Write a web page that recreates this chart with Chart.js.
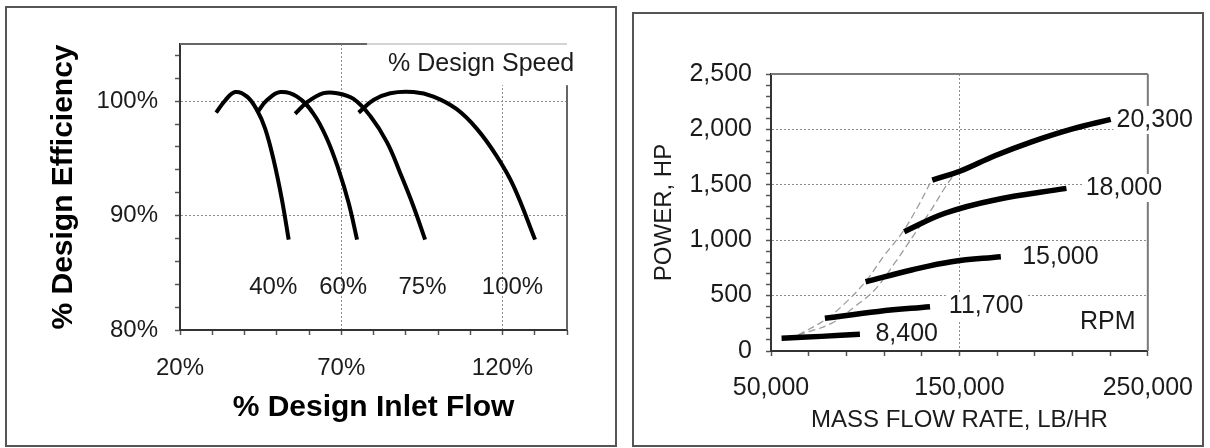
<!DOCTYPE html>
<html>
<head>
<meta charset="utf-8">
<script src="https://cdn.jsdelivr.net/npm/chart.js@4.4.1/dist/chart.umd.min.js"></script>
<style>
  html, body { margin: 0; padding: 0; background: #fff; }
  #stage { position: relative; width: 1210px; height: 448px; overflow: hidden; background: #fff; }
  .wrap { position: absolute; top: 0; height: 448px; }
  .panel { position: absolute; border: 2px solid #555; box-sizing: border-box; pointer-events: none; }
</style>
</head>
<body>
<div id="stage">
  <div class="wrap" style="left:0;width:620px"><canvas id="effChart"></canvas></div>
  <div class="wrap" style="left:620px;width:590px"><canvas id="powerChart"></canvas></div>
  <div class="panel" style="left:5px;top:6px;width:612px;height:441px"></div>
  <div class="panel" style="left:632px;top:12px;width:572px;height:435px"></div>
</div>
<script>
// ---------- Efficiency vs inlet flow (left panel) ----------
const flowTickValues = [20, 30, 40, 50, 60, 70, 80, 90, 100, 110, 120, 130, 140];
const flowLabelValues = [20, 70, 120];
const flowGridValues = [70, 120];
const effTickValues = [80, 82, 84, 86, 88, 90, 92, 94, 96, 98, 100, 102, 104];
const effLabelValues = [80, 90, 100];
const effGridValues = [90, 100];

const speed40Flow = [31.2, 34.1, 37.1, 40.8, 43.9, 46.4, 49.0, 51.6, 53.7];
const speed40Eff  = [99.0, 100.1, 100.8, 100.4, 99.2, 97.6, 94.9, 91.4, 87.9];
const speed60Flow = [43.9, 47.0, 51.1, 56.3, 61.4, 65.6, 69.2, 72.3, 74.9];
const speed60Eff  = [99.0, 100.1, 100.8, 100.4, 98.9, 96.7, 94.0, 91.1, 87.9];
const speed75Flow = [55.7, 59.4, 64.5, 68.7, 73.8, 79.0, 84.2, 88.3, 92.4, 96.0];
const speed75Eff  = [98.9, 99.9, 100.7, 100.7, 100.2, 98.7, 96.4, 93.7, 90.8, 87.9];
const speed100Flow = [75.4, 80.0, 85.2, 92.4, 98.6, 105.8, 112.0, 118.2, 123.4, 130.1];
const speed100Eff  = [99.0, 100.1, 100.7, 100.8, 100.4, 99.3, 97.6, 95.2, 92.6, 87.9];

const speedNames = ['40%', '60%', '75%', '100%'];
const speedLabelFlow = [48.9, 70.6, 95.2, 123.1];
const speedLabelEff = 83.7;
const speedTitle = '% Design Speed';

// ---------- Power vs mass flow (right panel) ----------
const massTickValues = [50000, 70000, 90000, 110000, 130000, 150000, 170000, 190000, 210000, 230000, 250000];
const massLabelValues = [50000, 150000, 250000];
const massGridValues = [150000];
const powerTickValues = [0, 100, 200, 300, 400, 500, 600, 700, 800, 900, 1000, 1100, 1200, 1300,
  1400, 1500, 1600, 1700, 1800, 1900, 2000, 2100, 2200, 2300, 2400, 2500];
const powerLabelValues = [0, 500, 1000, 1500, 2000, 2500];
const powerGridValues = [500, 1000, 1500, 2000];

const rpm8400Flow = [55600, 76800, 97200];
const rpm8400Power = [115, 132, 151];
const rpm11700Flow = [78600, 106900, 134400];
const rpm11700Power = [295, 357, 400];
const rpm15000Flow = [100200, 124600, 145800, 172000];
const rpm15000Power = [625, 731, 806, 851];
const rpm18000Flow = [120700, 142300, 168800, 206800];
const rpm18000Power = [1077, 1243, 1363, 1468];
const rpm20300Flow = [135600, 150200, 168800, 188300, 210000, 230300];
const rpm20300Power = [1543, 1622, 1762, 1888, 2005, 2090];

const limitAFlow = [64400, 78600, 89200, 100100, 110300, 120000, 127900, 135300];
const limitAPower = [144, 280, 430, 626, 866, 1077, 1302, 1543];
const limitBFlow = [64400, 82100, 94400, 105000, 115600, 127000, 135000, 142100, 148200];
const limitBPower = [144, 250, 400, 551, 792, 1077, 1273, 1469, 1618];

const rpmNames = ['8,400', '11,700', '15,000', '18,000', '20,300'];
const rpmLabelFlow = [105400, 144400, 183300, 217000, 233400];
const rpmLabelPower = [153, 406, 848, 1471, 2085];
const rpmUnit = 'RPM';
const rpmUnitFlow = 214000;
const rpmUnitPower = 265;

// ---------- shared helpers ----------
const FONT = '"Liberation Sans", Arial, Helvetica, sans-serif';
const TEXT = '#1b1b1b';
const GRID = '#8c8c8c';
const pts = (xs, ys) => xs.map((x, i) => ({ x, y: ys[i] }));
const fixedTicks = (values) => (scale) => { scale.ticks = values.map(v => ({ value: v })); };
const gridColor = (values) => (c) => (c.tick && values.includes(c.tick.value)) ? GRID : 'rgba(0,0,0,0)';

function solid(data, width) {
  return { data, showLine: true, borderColor: '#000', borderWidth: width, pointRadius: 0,
           tension: 0.4, fill: false, order: 1, borderCapStyle: 'butt' };
}

// ---------- left chart ----------
const effDecor = {
  id: 'effDecor',
  afterDraw(chart) {
    const { ctx, chartArea: a, scales: { x, y } } = chart;
    ctx.save();
    // plot frame (top and right)
    ctx.strokeStyle = '#666';
    ctx.lineWidth = 2;
    ctx.beginPath();
    ctx.moveTo(a.left, a.top); ctx.lineTo(a.right, a.top);
    ctx.moveTo(a.right, a.top); ctx.lineTo(a.right, a.bottom);
    ctx.stroke();
    // caption box over the top-right corner
    const bx = x.getPixelForValue(78);
    const by = y.getPixelForValue(101.4);
    ctx.fillStyle = '#fff';
    ctx.fillRect(bx, a.top - 3, chart.width - bx, by - a.top + 3);
    ctx.strokeStyle = '#c4c4c4';
    ctx.lineWidth = 1.5;
    ctx.beginPath(); ctx.moveTo(bx, a.top); ctx.lineTo(a.right, a.top); ctx.stroke();
    ctx.fillStyle = TEXT;
    ctx.font = '25px ' + FONT;
    ctx.textBaseline = 'middle';
    ctx.textAlign = 'left';
    ctx.fillText(speedTitle, x.getPixelForValue(84.5), y.getPixelForValue(103.2));
    // speed labels under the curves
    ctx.font = '24px ' + FONT;
    ctx.textAlign = 'center';
    speedNames.forEach((t, i) => {
      ctx.fillText(t, x.getPixelForValue(speedLabelFlow[i]), y.getPixelForValue(speedLabelEff));
    });
    ctx.restore();
  }
};

new Chart(document.getElementById('effChart'), {
  type: 'scatter',
  data: {
    datasets: [
      solid(pts(speed40Flow, speed40Eff), 4),
      solid(pts(speed60Flow, speed60Eff), 4),
      solid(pts(speed75Flow, speed75Eff), 4),
      solid(pts(speed100Flow, speed100Eff), 4)
    ]
  },
  options: {
    responsive: true,
    maintainAspectRatio: false,
    animation: false,
    devicePixelRatio: 1,
    layout: { padding: { left: 42, right: 53, top: 44, bottom: 18 } },
    plugins: { legend: { display: false }, tooltip: { enabled: false } },
    scales: {
      x: {
        type: 'linear', min: 20, max: 140,
        afterBuildTicks: fixedTicks(flowTickValues),
        afterFit: (s) => { s.height = 100; },
        ticks: {
          autoSkip: false, maxRotation: 0, padding: 19, color: TEXT,
          font: { family: FONT, size: 24 },
          callback: (v) => flowLabelValues.includes(v) ? v + '%' : ''
        },
        grid: { color: gridColor(flowGridValues), lineWidth: 1, tickLength: 5, tickColor: '#555', tickWidth: 1.5 },
        border: { display: true, color: '#333', width: 2, dash: [2, 2] },
        title: { display: true, text: '% Design Inlet Flow', color: '#000',
                 font: { family: FONT, size: 30, weight: 'bold' }, padding: { top: 0, bottom: 4 } }
      },
      y: {
        type: 'linear', min: 80, max: 105,
        afterBuildTicks: fixedTicks(effTickValues),
        afterFit: (s) => { s.width = 138; },
        ticks: {
          autoSkip: false, padding: 17, color: TEXT,
          font: { family: FONT, size: 24 },
          callback: (v) => effLabelValues.includes(v) ? v + '%' : ''
        },
        grid: { color: gridColor(effGridValues), lineWidth: 1, tickLength: 5, tickColor: '#555', tickWidth: 1.5 },
        border: { display: true, color: '#333', width: 2, dash: [2, 2] },
        title: { display: true, text: '% Design Efficiency', color: '#000',
                 font: { family: FONT, size: 30, weight: 'bold' }, padding: { top: 4, bottom: 0 } }
      }
    }
  },
  plugins: [effDecor]
});

// ---------- right chart ----------
const powerDecor = {
  id: 'powerDecor',
  afterDraw(chart) {
    const { ctx, chartArea: a, scales: { x, y } } = chart;
    ctx.save();
    ctx.strokeStyle = '#7a7a7a';
    ctx.lineWidth = 2;
    ctx.beginPath();
    ctx.moveTo(a.left, a.top); ctx.lineTo(a.right, a.top);
    ctx.moveTo(a.right, a.top); ctx.lineTo(a.right, a.bottom);
    ctx.stroke();
    ctx.font = '25px ' + FONT;
    ctx.textBaseline = 'middle';
    ctx.textAlign = 'left';
    rpmNames.forEach((t, i) => {
      const px = x.getPixelForValue(rpmLabelFlow[i]);
      const py = y.getPixelForValue(rpmLabelPower[i]);
      const w = ctx.measureText(t).width;
      ctx.fillStyle = '#fff';
      ctx.fillRect(px - 3, py - 14, w + 6, 28);
      ctx.fillStyle = TEXT;
      ctx.fillText(t, px, py);
    });
    ctx.fillText(rpmUnit, x.getPixelForValue(rpmUnitFlow), y.getPixelForValue(rpmUnitPower));
    ctx.restore();
  }
};

function dashed(data) {
  return { data, showLine: true, borderColor: '#9c9c9c', borderWidth: 1.3, borderDash: [7, 4],
           pointRadius: 0, tension: 0.4, fill: false, order: 2 };
}

new Chart(document.getElementById('powerChart'), {
  type: 'scatter',
  data: {
    datasets: [
      solid(pts(rpm8400Flow, rpm8400Power), 5.5),
      solid(pts(rpm11700Flow, rpm11700Power), 5.5),
      solid(pts(rpm15000Flow, rpm15000Power), 5.5),
      solid(pts(rpm18000Flow, rpm18000Power), 5.5),
      solid(pts(rpm20300Flow, rpm20300Power), 5.5),
      dashed(pts(limitAFlow, limitAPower)),
      dashed(pts(limitBFlow, limitBPower))
    ]
  },
  options: {
    responsive: true,
    maintainAspectRatio: false,
    animation: false,
    devicePixelRatio: 1,
    layout: { padding: { left: 28, right: 60, top: 74, bottom: 10 } },
    plugins: { legend: { display: false }, tooltip: { enabled: false } },
    scales: {
      x: {
        type: 'linear', min: 50000, max: 250000,
        afterBuildTicks: fixedTicks(massTickValues),
        afterFit: (s) => { s.height = 87; },
        ticks: {
          autoSkip: false, maxRotation: 0, padding: 17, color: TEXT,
          font: { family: FONT, size: 25 },
          callback: (v) => massLabelValues.includes(v) ? v.toLocaleString('en-US') : ''
        },
        grid: { color: gridColor(massGridValues), lineWidth: 1, tickLength: 5, tickColor: '#555', tickWidth: 1.5 },
        border: { display: true, color: '#333', width: 2, dash: [2, 2] },
        title: { display: true, text: 'MASS FLOW RATE, LB/HR', color: TEXT,
                 font: { family: FONT, size: 24 }, padding: { top: 0, bottom: 3 } }
      },
      y: {
        type: 'linear', min: 0, max: 2500,
        afterBuildTicks: fixedTicks(powerTickValues),
        afterFit: (s) => { s.width = 123; },
        ticks: {
          autoSkip: false, padding: 14, color: TEXT,
          font: { family: FONT, size: 25 },
          callback: (v) => powerLabelValues.includes(v) ? v.toLocaleString('en-US') : ''
        },
        grid: { color: gridColor(powerGridValues), lineWidth: 1, tickLength: 5, tickColor: '#555', tickWidth: 1.5 },
        border: { display: true, color: '#333', width: 2, dash: [2, 2] },
        title: { display: true, text: 'POWER, HP', color: TEXT,
                 font: { family: FONT, size: 24 }, padding: { top: 2, bottom: 0 } }
      }
    }
  },
  plugins: [powerDecor]
});
</script>
</body>
</html>
